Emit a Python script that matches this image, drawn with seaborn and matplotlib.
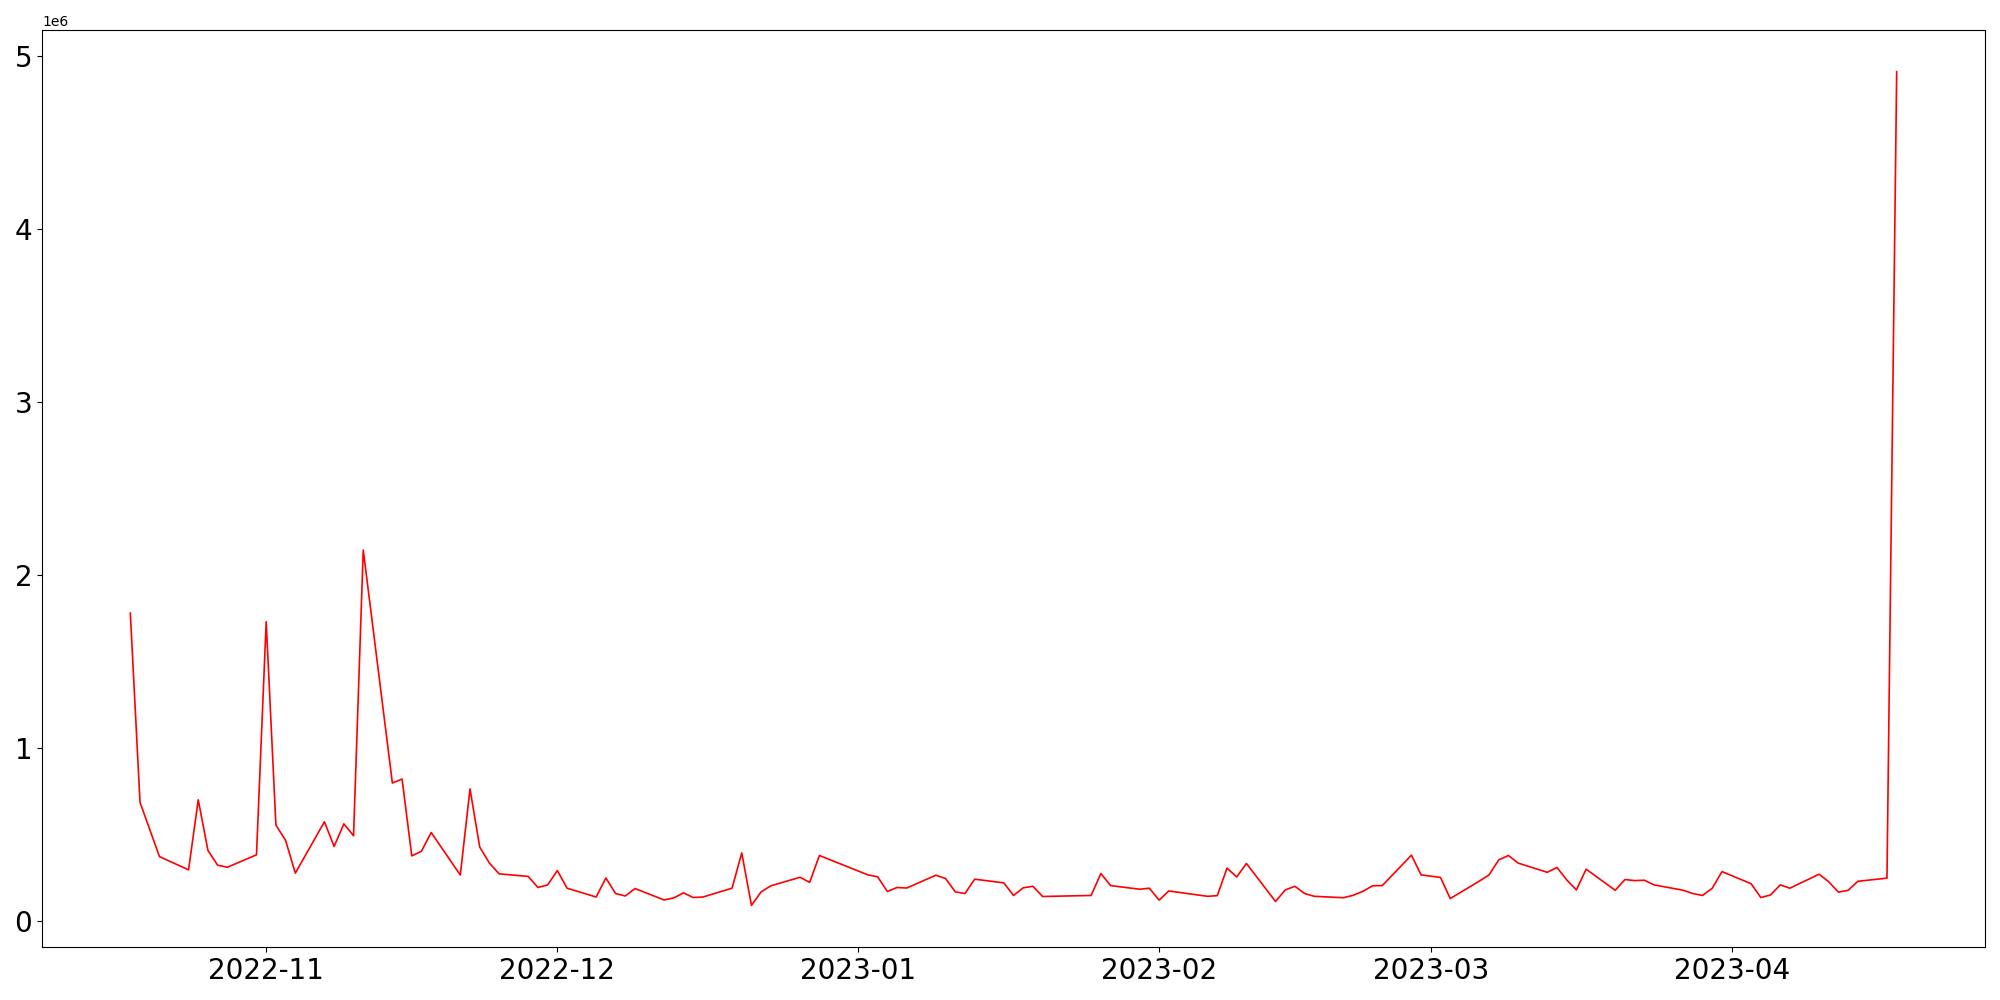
import matplotlib
matplotlib.use("Agg")
import matplotlib.pyplot as plt
import pandas as pd
import seaborn as sns

# trading days (gaps = weekends / holidays)
dates = [
    "2022-10-18", "2022-10-19", "2022-10-21", "2022-10-24", "2022-10-25", "2022-10-26", "2022-10-27", "2022-10-28",
    "2022-10-31", "2022-11-01", "2022-11-02", "2022-11-03", "2022-11-04", "2022-11-07", "2022-11-08", "2022-11-09",
    "2022-11-10", "2022-11-11", "2022-11-14", "2022-11-15", "2022-11-16", "2022-11-17", "2022-11-18", "2022-11-21",
    "2022-11-22", "2022-11-23", "2022-11-24", "2022-11-25", "2022-11-28", "2022-11-29", "2022-11-30", "2022-12-01",
    "2022-12-02", "2022-12-05", "2022-12-06", "2022-12-07", "2022-12-08", "2022-12-09", "2022-12-12", "2022-12-13",
    "2022-12-14", "2022-12-15", "2022-12-16", "2022-12-19", "2022-12-20", "2022-12-21", "2022-12-22", "2022-12-23",
    "2022-12-26", "2022-12-27", "2022-12-28", "2023-01-02", "2023-01-03", "2023-01-04", "2023-01-05", "2023-01-06",
    "2023-01-09", "2023-01-10", "2023-01-11", "2023-01-12", "2023-01-13", "2023-01-16", "2023-01-17", "2023-01-18",
    "2023-01-19", "2023-01-20", "2023-01-25", "2023-01-26", "2023-01-27", "2023-01-30", "2023-01-31", "2023-02-01",
    "2023-02-02", "2023-02-06", "2023-02-07", "2023-02-08", "2023-02-09", "2023-02-10", "2023-02-13", "2023-02-14",
    "2023-02-15", "2023-02-16", "2023-02-17", "2023-02-20", "2023-02-21", "2023-02-22", "2023-02-23", "2023-02-24",
    "2023-02-27", "2023-02-28", "2023-03-02", "2023-03-03", "2023-03-06", "2023-03-07", "2023-03-08", "2023-03-09",
    "2023-03-10", "2023-03-13", "2023-03-14", "2023-03-15", "2023-03-16", "2023-03-17", "2023-03-20", "2023-03-21",
    "2023-03-22", "2023-03-23", "2023-03-24", "2023-03-27", "2023-03-28", "2023-03-29", "2023-03-30", "2023-03-31",
    "2023-04-03", "2023-04-04", "2023-04-05", "2023-04-06", "2023-04-07", "2023-04-10", "2023-04-11", "2023-04-12",
    "2023-04-13", "2023-04-14", "2023-04-17", "2023-04-18",
]

volume = [
    1780000, 685000, 372000, 295000, 700000, 407000, 322000, 310000,
    382000, 1730000, 554000, 465000, 276000, 573000, 430000, 561000,
    492000, 2144000, 797000, 820000, 376000, 403000, 511000, 265000,
    763000, 427000, 334000, 272000, 257000, 193000, 208000, 291000,
    189000, 138000, 248000, 158000, 144000, 187000, 121000, 133000,
    162000, 135000, 138000, 189000, 393000, 90000, 168000, 203000,
    252000, 223000, 378000, 266000, 255000, 170000, 193000, 190000,
    264000, 245000, 168000, 158000, 241000, 220000, 147000, 191000,
    200000, 141000, 147000, 274000, 204000, 183000, 189000, 120000,
    173000, 142000, 146000, 305000, 254000, 332000, 112000, 179000,
    200000, 158000, 142000, 134000, 148000, 171000, 203000, 204000,
    380000, 266000, 251000, 129000, 230000, 266000, 353000, 378000,
    334000, 281000, 309000, 237000, 179000, 299000, 177000, 239000,
    233000, 235000, 208000, 177000, 158000, 147000, 189000, 285000,
    215000, 135000, 150000, 208000, 189000, 270000, 226000, 166000,
    177000, 229000, 247000, 4910000,
]

df = pd.DataFrame({"date": pd.to_datetime(dates), "volume": volume})

fig, ax = plt.subplots(figsize=(20, 10), dpi=100)
sns.lineplot(data=df, x="date", y="volume", ax=ax, color="red", linewidth=1.2)

ax.set_xlabel("")
ax.set_ylabel("")
plt.xticks(fontsize=20)
plt.yticks(fontsize=20)

fig.subplots_adjust(left=0.021, right=0.9925, top=0.97, bottom=0.053)
plt.savefig("out.png", dpi=100)
